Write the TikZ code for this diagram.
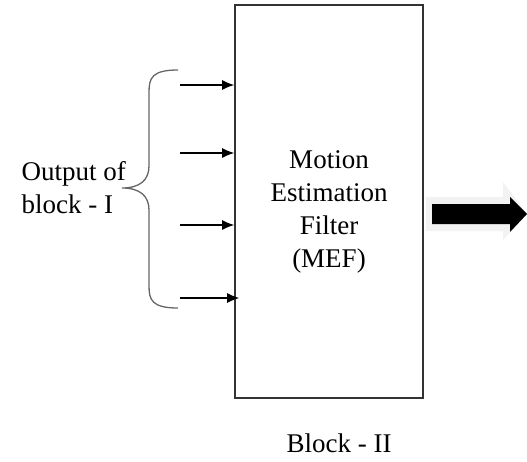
\documentclass[tikz,border=0pt]{standalone}
\usepackage{fontspec}
\setmainfont{Liberation Serif}
\usepackage{tikz}
\usetikzlibrary{positioning, arrows.meta}

\begin{document}
\begin{tikzpicture}[
  x=1pt, y=-1pt,
  block/.style={draw=black!80, line width=1.6pt, minimum width=188pt,
                minimum height=393pt, inner sep=0pt},
  lbl/.style={font=\fontsize{27}{33}\selectfont, align=center, inner sep=0pt},
  inarr/.style={-{Latex[length=12pt, width=10pt]}, line width=1.2pt, draw=black},
  brace/.style={draw=black!60, line width=1.3pt},
]
\useasboundingbox (0,0) rectangle (527,461);
\node[block] (mef) at (329,201.5) {};
\node[lbl] (meftext) at (329,212) {Motion\\Estimation\\Filter\\(MEF)};
\node[lbl, below=35pt of mef, xshift=10pt] (blk) {Block - II};
\node[lbl, align=left, anchor=east] (src) at (126,188) {Output of\\block - I};
% inputs
\coordinate (in1) at (180,85);
\coordinate (in2) at (180,153);
\coordinate (in3) at (180,225);
\coordinate (in4) at (180,298);
\draw[inarr] (in1) -- (mef.west |- in1);
\draw[inarr] (in2) -- (mef.west |- in2);
\draw[inarr] (in3) -- (mef.west |- in3);
\draw[inarr] (in4) -- ([xshift=5pt]mef.west |- in4);
% brace
\draw[brace] (178,70) .. controls (152,70) and (149,78) .. (149,92)
  -- (149,166) .. controls (149,180) and (140,188) .. (122,188)
  .. controls (140,188) and (149,196) .. (149,210)
  -- (149,286) .. controls (149,300) and (152,308) .. (178,308);
% output
\fill[black!5] (426,197) -- (503,197) -- (503,182) -- (527,214)
  -- (503,240) -- (503,231) -- (426,231) -- cycle;
\fill[black] (432,204) -- (510,204) -- (510,197) -- (527,214)
  -- (510,232) -- (510,224) -- (432,224) -- cycle;
\end{tikzpicture}
\end{document}
